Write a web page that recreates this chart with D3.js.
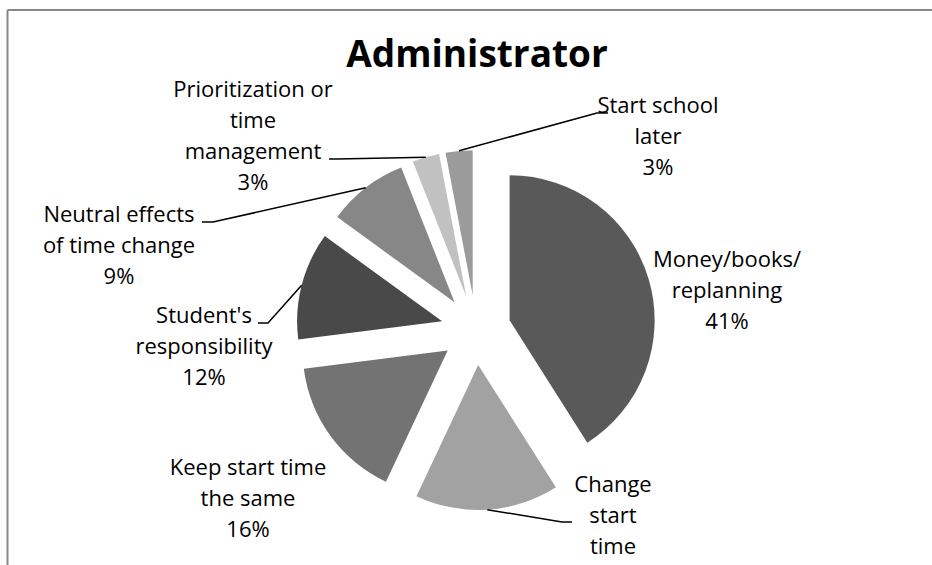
<!DOCTYPE html>
<html>
<head>
<meta charset="utf-8">
<script src="https://cdn.jsdelivr.net/npm/d3@7"></script>
<style>
  html, body { margin: 0; padding: 0; background: #fff; overflow: hidden; }
  svg { display: block; }
  text { font-family: "Open Sans", Lato, sans-serif; fill: #000; }
</style>
</head>
<body>
<svg id="chart" width="932" height="565"></svg>
<script>
// Chart data
const title = "Administrator";
const categories = [
  "Money/books/\nreplanning",
  "Change\nstart\ntime",
  "Keep start time\nthe same",
  "Student's\nresponsibility",
  "Neutral effects\nof time change",
  "Prioritization or\ntime\nmanagement",
  "Start school\nlater"
];
const percents = [41, 16, 16, 12, 9, 3, 3];
const fills = ["#595959", "#a2a2a2", "#737373", "#494949", "#878787", "#c1c1c1", "#9b9b9b"];

// Label placement: centre x, first baseline, and the point where the leader meets the text
const labelLayout = [
  { x: 727, y: 267, leader: null },
  { x: 613, y: 492, leader: { end: [572, 522], elbow: [562, 522] } },
  { x: 248, y: 475, leader: null },
  { x: 204, y: 323, leader: { end: [258, 323], elbow: [268, 323] } },
  { x: 119, y: 222, leader: { end: [202, 222], elbow: [213, 222] } },
  { x: 253, y: 97,  leader: { end: [329, 159], elbow: [337, 159] } },
  { x: 658, y: 113, leader: { end: [608, 113], elbow: [597, 113] } }
];

const svg = d3.select("#chart");
const W = 932, H = 565;
const cx = 476, cy = 330;       // pie centre
const radius = 145;
const explode = 35;             // every slice pulled out by the same distance
const lineGap = 31;

// Chart area frame (top and left edges fall inside the page)
const frame = svg.append("g")
  .attr("stroke", "#878787")
  .attr("stroke-width", 2);
frame.append("line").attr("x1", 7.5).attr("y1", 10).attr("x2", W).attr("y2", 10);
frame.append("line").attr("x1", 7.5).attr("y1", 10).attr("x2", 7.5).attr("y2", H);

// Title
svg.append("text")
  .attr("x", 477).attr("y", 67)
  .attr("text-anchor", "middle")
  .attr("font-weight", "bold")
  .attr("font-size", 37)
  .text(title);

const pie = d3.pie().sort(null).value(d => d)(percents);
const arc = d3.arc().innerRadius(0).outerRadius(radius);

const offset = d => {
  const a = (d.startAngle + d.endAngle) / 2;
  return [explode * Math.sin(a), -explode * Math.cos(a)];
};

const g = svg.append("g").attr("transform", `translate(${cx},${cy})`);

g.selectAll("path.slice")
  .data(pie)
  .join("path")
  .attr("class", "slice")
  .attr("transform", d => `translate(${offset(d)})`)
  .attr("d", arc)
  .attr("fill", (d, i) => fills[i]);

// Leader lines from the middle of each slice rim to its label
pie.forEach((d, i) => {
  const L = labelLayout[i].leader;
  if (!L) return;
  const [ox, oy] = offset(d);
  const a = (d.startAngle + d.endAngle) / 2;
  const sx = cx + ox + radius * Math.sin(a);
  const sy = cy + oy - radius * Math.cos(a);
  svg.append("polyline")
    .attr("points", [[sx, sy], L.elbow, L.end].map(p => p.join(",")).join(" "))
    .attr("fill", "none")
    .attr("stroke", "#000")
    .attr("stroke-width", 1.5);
});

// Data labels: category name lines followed by the percentage
pie.forEach((d, i) => {
  const lay = labelLayout[i];
  const lines = categories[i].split("\n").concat([d3.format(".0f")(d.data) + "%"]);
  const lg = svg.append("g").attr("class", "label");
  lines.forEach((s, k) => {
    lg.append("text")
      .attr("text-anchor", "middle")
      .attr("font-size", 22)
      .attr("x", lay.x)
      .attr("y", lay.y + k * lineGap)
      .text(s);
  });
});
</script>
</body>
</html>
